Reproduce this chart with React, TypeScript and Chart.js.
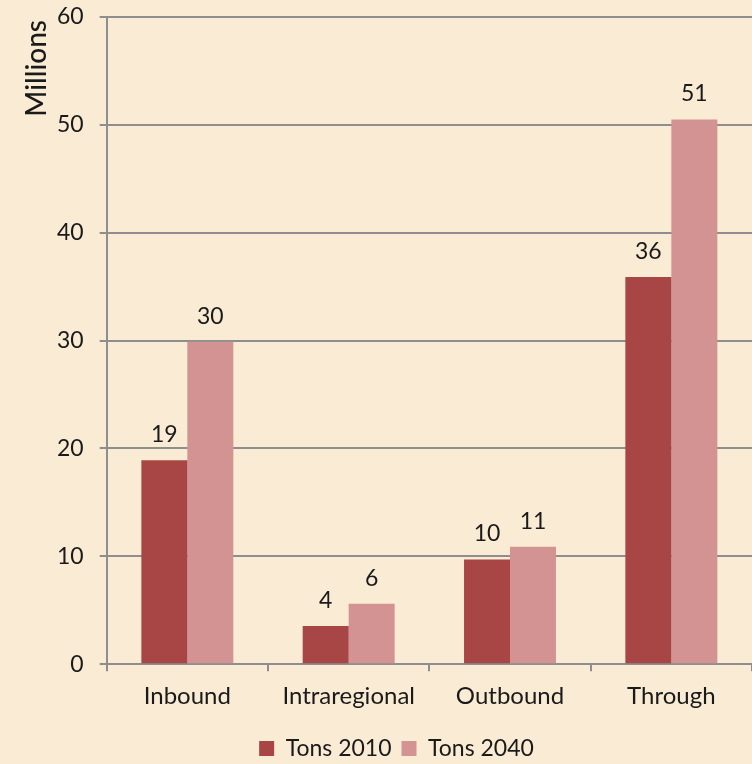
import React, { useEffect, useRef } from "react";
import { Chart, registerables } from "chart.js";

Chart.register(...registerables);

const categories = ["Inbound", "Intraregional", "Outbound", "Through"];
const tons2010 = [18.9, 3.55, 9.7, 35.9];
const tons2040 = [29.9, 5.6, 10.9, 50.5];
const labels2010 = ["19", "4", "10", "36"];
const labels2040 = ["30", "6", "11", "51"];
const yTicks = [0, 10, 20, 30, 40, 50, 60];
const yTitle = "Millions";

const FONT = "Lato, 'Open Sans', sans-serif";
const BG = "#FAEBD4";
const GRID = "#8E8E8E";
const TXT = "#1a1a1a";

const valueLabels = {
  id: "valueLabels",
  afterDatasetsDraw(chart: any) {
    const ctx = chart.ctx;
    const texts = [labels2010, labels2040];
    ctx.save();
    ctx.font = `23px ${FONT}`;
    ctx.fillStyle = TXT;
    ctx.textAlign = "center";
    ctx.textBaseline = "bottom";
    chart.data.datasets.forEach((_: any, di: number) => {
      const meta = chart.getDatasetMeta(di);
      meta.data.forEach((bar: any, i: number) => {
        ctx.fillText(texts[di][i], bar.x, bar.y - 14);
      });
    });
    ctx.restore();
  },
};

const axisTitle = {
  id: "axisTitle",
  afterDraw(chart: any) {
    const ctx = chart.ctx;
    const area = chart.chartArea;
    ctx.save();
    ctx.translate(area.left - 70, area.top + 3);
    ctx.rotate(-Math.PI / 2);
    ctx.font = `500 28px ${FONT}`;
    ctx.fillStyle = TXT;
    ctx.textAlign = "right";
    ctx.textBaseline = "middle";
    ctx.fillText(yTitle, 0, 0);
    ctx.restore();
  },
};

const bgPlugin = {
  id: "bgFill",
  beforeDraw(chart: any) {
    const ctx = chart.ctx;
    ctx.save();
    ctx.fillStyle = BG;
    ctx.fillRect(0, 0, chart.width, chart.height);
    ctx.restore();
  },
};

export default function App() {
  const ref = useRef<HTMLCanvasElement>(null);
  useEffect(() => {
    document.body.style.margin = "0";
    document.body.style.background = BG;
    const chart = new Chart(ref.current!, {
      type: "bar",
      data: {
        labels: categories,
        datasets: [
          {
            label: "Tons 2010",
            data: tons2010,
            backgroundColor: "#A84646",
            categoryPercentage: 0.57,
            barPercentage: 1,
          },
          {
            label: "Tons 2040",
            data: tons2040,
            backgroundColor: "#D49393",
            categoryPercentage: 0.57,
            barPercentage: 1,
          },
        ],
      },
      options: {
        responsive: false,
        animation: false,
        layout: { padding: { top: 0, left: 41, right: 0, bottom: -6 } },
        plugins: {
          legend: {
            position: "bottom",
            labels: {
              font: { family: FONT, size: 23 },
              color: TXT,
              boxWidth: 15,
              boxHeight: 15,
              padding: 10,
            },
          },
          tooltip: { enabled: false },
        },
        scales: {
          x: {
            grid: {
              offset: true,
              drawOnChartArea: false,
              drawTicks: true,
              tickLength: 7,
              color: GRID,
              lineWidth: 2,
            },
            border: { color: GRID, width: 2 },
            ticks: {
              font: { family: FONT, size: 24 },
              color: TXT,
              padding: 11,
            },
            afterFit(axis: any) {
              axis.height += 5;
            },
          },
          y: {
            min: 0,
            max: 60,
            afterBuildTicks(axis: any) {
              axis.ticks = yTicks.map((v) => ({ value: v }));
            },
            afterFit(axis: any) {
              axis.paddingTop = 17;
            },
            grid: {
              color: GRID,
              lineWidth: 2,
              tickLength: 7,
            },
            border: { color: GRID, width: 2 },
            ticks: {
              font: { family: FONT, size: 23 },
              color: TXT,
              padding: 16,
            },
          },
        },
      },
      plugins: [bgPlugin, valueLabels, axisTitle],
    });
    return () => chart.destroy();
  }, []);
  return (
    <div style={{ width: 752, height: 764, background: BG }}>
      <canvas ref={ref} width={752} height={764} style={{ display: "block" }} />
    </div>
  );
}
